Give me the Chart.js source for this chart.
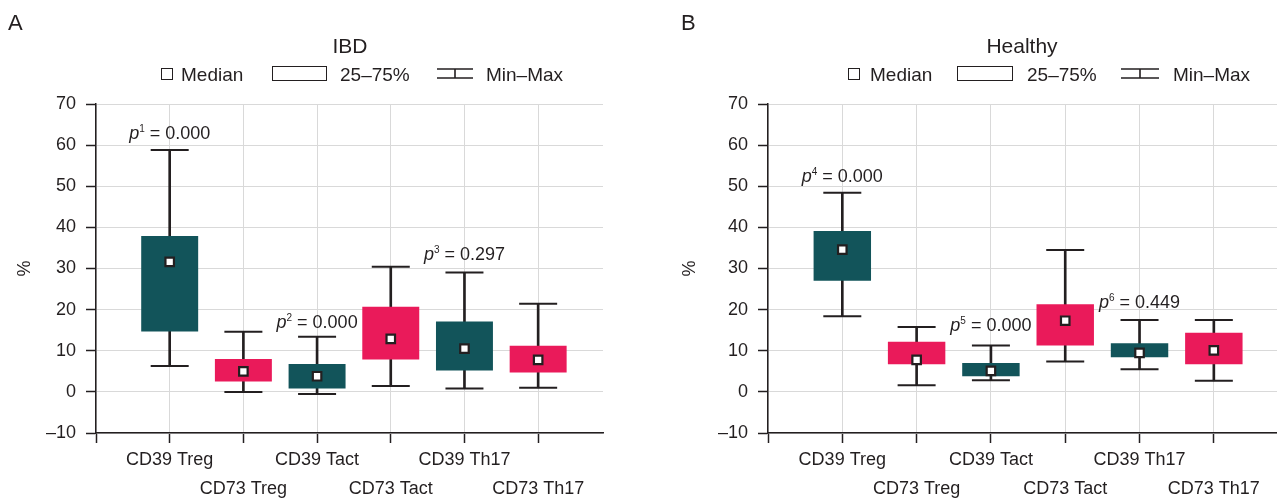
<!DOCTYPE html>
<html>
<head>
<meta charset="utf-8">
<script src="https://cdn.jsdelivr.net/npm/chart.js@4.4.1/dist/chart.umd.min.js"></script>
<style>
    html, body { margin: 0; padding: 0; background: #fff; }
    body { width: 1277px; height: 498px; position: relative; overflow: hidden;
           font-family: "Liberation Sans", Arial, sans-serif; color: #231f20; }
    canvas { position: absolute; top: 0; }
    #chartA { left: 0; }
    #chartB { left: 638px; }
    .txt { position: absolute; white-space: nowrap; line-height: 1; }
    .panel-id { font-size: 22px; top: 12px; }
    .title { font-size: 21px; top: 35px; transform: translateX(-50%); }
    .leg { font-size: 19px; top: 65px; }
    .ico-median { position: absolute; top: 68px; width: 10px; height: 10px; border: 1.6px solid #231f20; }
    .ico-box { position: absolute; top: 66px; height: 13px; border: 1.6px solid #231f20; }
    .ico-range { position: absolute; top: 68px; height: 11px; }
</style>
</head>
<body>
<canvas id="chartA" width="638" height="498"></canvas>
<canvas id="chartB" width="639" height="498"></canvas>

<!-- panel labels, titles and legends -->
<div class="txt panel-id" style="left:8px">A</div>
<div class="txt title" style="left:350px">IBD</div>
<div class="ico-median" style="left:161px"></div>
<div class="txt leg" style="left:181px">Median</div>
<div class="ico-box" style="left:272px;width:53px"></div>
<div class="txt leg" style="left:340px">25–75%</div>
<svg class="ico-range" style="left:437px" width="36" height="11"><path d="M0 1H36M18 1V10M0 10H36" stroke="#231f20" stroke-width="1.6" fill="none"/></svg>
<div class="txt leg" style="left:486px">Min–Max</div>

<div class="txt panel-id" style="left:681px">B</div>
<div class="txt title" style="left:1022px">Healthy</div>
<div class="ico-median" style="left:848px"></div>
<div class="txt leg" style="left:870px">Median</div>
<div class="ico-box" style="left:957px;width:54px"></div>
<div class="txt leg" style="left:1027px">25–75%</div>
<svg class="ico-range" style="left:1121px" width="38" height="11"><path d="M0 1H38M19 1V10M0 10H38" stroke="#231f20" stroke-width="1.6" fill="none"/></svg>
<div class="txt leg" style="left:1173px">Min–Max</div>

<script>
// --- DADOS ---
const categories = ['CD39 Treg', 'CD73 Treg', 'CD39 Tact', 'CD73 Tact', 'CD39 Th17', 'CD73 Th17'];
const positions = [1, 2, 3, 4, 5, 6];
const yTicks = [-10, 0, 10, 20, 30, 40, 50, 60, 70];

// IBD
const ibdMin    = [6.3, 0.0, -0.5, 1.4, 0.8, 1.0];
const ibdQ1     = [14.7, 2.5, 0.8, 7.9, 5.2, 4.7];
const ibdMedian = [31.6, 5.0, 3.8, 12.9, 10.5, 7.8];
const ibdQ3     = [37.9, 8.0, 6.8, 20.7, 17.1, 11.2];
const ibdMax    = [58.8, 14.6, 13.4, 30.4, 29.0, 21.4];
const ibdPIndex = ['1', '2', '3'];
const ibdPValue = ['0.000', '0.000', '0.297'];
const ibdPAt    = [63.0, 17.0, 33.5];   // valor no eixo y onde fica o texto

// Healthy
const healthyMin    = [18.4, 1.6, 2.8, 7.4, 5.5, 2.7];
const healthyQ1     = [27.0, 6.7, 3.8, 11.3, 8.4, 6.7];
const healthyMedian = [34.6, 7.8, 5.1, 17.3, 9.5, 10.1];
const healthyQ3     = [39.1, 12.2, 7.0, 21.3, 11.8, 14.4];
const healthyMax    = [48.4, 15.8, 11.3, 34.5, 17.5, 17.5];
const healthyPIndex = ['4', '5', '6'];
const healthyPValue = ['0.000', '0.000', '0.449'];
const healthyPAt    = [52.5, 16.3, 21.9];

// posições (no eixo x) dos rótulos de p: sobre as caixas CD39
const pPositions = [1, 3, 5];

const ink = '#231f20';
const teal = '#12545a';
const pink = '#ea1a5a';
const gridColor = '#d9d9d9';
const boxColors = categories.map((c, i) => i % 2 === 0 ? teal : pink);

Chart.defaults.font.family = '"Liberation Sans", Arial, sans-serif';
Chart.defaults.color = ink;

// escreve "p^n = valor" acima das caixas
function pLabels(indexes, values, anchors) {
    return {
        id: 'pLabels',
        afterDatasetsDraw(chart) {
            const { ctx, scales: { x, y } } = chart;
            ctx.save();
            ctx.fillStyle = ink;
            ctx.textBaseline = 'alphabetic';
            ctx.textAlign = 'left';
            indexes.forEach((n, i) => {
                const cx = x.getPixelForValue(pPositions[i]);
                const cy = y.getPixelForValue(anchors[i]);
                const rest = ' = ' + values[i];
                ctx.font = 'italic 18px "Liberation Sans", Arial, sans-serif';
                const wp = ctx.measureText('p').width;
                ctx.font = '10px "Liberation Sans", Arial, sans-serif';
                const ws = ctx.measureText(n).width;
                ctx.font = '18px "Liberation Sans", Arial, sans-serif';
                const wr = ctx.measureText(rest).width;
                let left = cx - (wp + ws + wr) / 2;
                const base = cy + 6;
                ctx.font = 'italic 18px "Liberation Sans", Arial, sans-serif';
                ctx.fillText('p', left, base);
                left += wp;
                ctx.font = '10px "Liberation Sans", Arial, sans-serif';
                ctx.fillText(n, left, base - 7);
                left += ws;
                ctx.font = '18px "Liberation Sans", Arial, sans-serif';
                ctx.fillText(rest, left, base);
            });
            ctx.restore();
        }
    };
}

function createBoxChart(id, s, padding, yWidth, xMax) {
    const ctx = document.getElementById(id).getContext('2d');
    new Chart(ctx, {
        type: 'bar',
        data: {
            datasets: [
                {   // linha Min-Max
                    data: positions.map((x, i) => ({ x, y: [s.min[i], s.max[i]] })),
                    backgroundColor: ink,
                    barThickness: 2,
                    grouped: false,
                    order: 4
                },
                {   // traços nas pontas
                    type: 'scatter',
                    data: positions.map((x, i) => ({ x, y: s.min[i] }))
                        .concat(positions.map((x, i) => ({ x, y: s.max[i] }))),
                    pointStyle: 'line',
                    pointRadius: 19,
                    pointBorderColor: ink,
                    pointBorderWidth: 2,
                    order: 3
                },
                {   // caixa 25-75%
                    data: positions.map((x, i) => ({ x, y: [s.q1[i], s.q3[i]] })),
                    backgroundColor: boxColors,
                    barPercentage: 0.773,
                    categoryPercentage: 1,
                    grouped: false,
                    order: 2
                },
                {   // mediana
                    type: 'scatter',
                    data: positions.map((x, i) => ({ x, y: s.median[i] })),
                    pointStyle: 'rect',
                    pointRadius: 6,
                    pointBackgroundColor: '#ffffff',
                    pointBorderColor: ink,
                    pointBorderWidth: 2.2,
                    order: 1
                }
            ]
        },
        options: {
            responsive: false,
            animation: false,
            events: [],
            layout: { padding, autoPadding: false },
            plugins: { legend: { display: false }, tooltip: { enabled: false } },
            scales: {
                x: {
                    type: 'linear',
                    min: 0,
                    max: xMax,
                    offset: false,
                    grid: { offset: false, color: gridColor, tickColor: ink, tickLength: 10, tickWidth: 1.5 },
                    border: { color: ink, width: 1.5 },
                    afterBuildTicks: scale => { scale.ticks = [0].concat(positions).map(v => ({ value: v })); },
                    afterFit: scale => {
                        scale.height = 65;
                        scale.paddingLeft = 0;
                        scale.paddingRight = 0;
                    },
                    ticks: {
                        autoSkip: false,
                        maxRotation: 0,
                        padding: 3,
                        color: ink,
                        font: { size: 18, lineHeight: 1.61 },
                        callback: v => v === 0 ? '' : (v % 2 === 1 ? categories[v - 1] : ['', categories[v - 1]])
                    }
                },
                y: {
                    min: yTicks[0],
                    max: yTicks[yTicks.length - 1],
                    grid: { color: gridColor, tickColor: ink, tickLength: 10, tickWidth: 1.5 },
                    border: { color: ink, width: 1.5 },
                    afterFit: scale => { scale.width = yWidth; },
                    ticks: {
                        stepSize: 10,
                        padding: 10,
                        color: ink,
                        font: { size: 18 },
                        callback: v => v < 0 ? '–' + Math.abs(v) : v
                    },
                    title: { display: true, text: '%', color: ink, font: { size: 18 }, padding: { top: 14, bottom: 0 } }
                }
            }
        },
        plugins: [pLabels(s.pIndex, s.pValue, s.pAt)]
    });
}

createBoxChart('chartA', {
    min: ibdMin, q1: ibdQ1, median: ibdMedian, q3: ibdQ3, max: ibdMax,
    pIndex: ibdPIndex, pValue: ibdPValue, pAt: ibdPAt
}, { top: 104, left: 0, right: 35, bottom: 0 }, 96, 6.88);

createBoxChart('chartB', {
    min: healthyMin, q1: healthyQ1, median: healthyMedian, q3: healthyQ3, max: healthyMax,
    pIndex: healthyPIndex, pValue: healthyPValue, pAt: healthyPAt
}, { top: 104, left: 27, right: 0, bottom: 0 }, 103, 6.85);
</script>
</body>
</html>
